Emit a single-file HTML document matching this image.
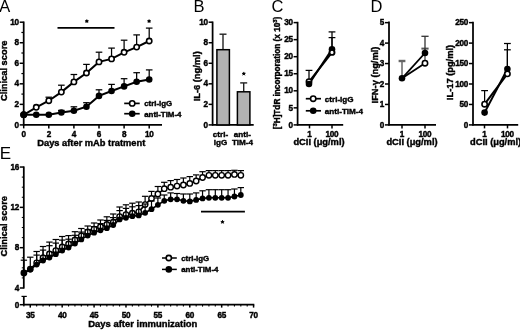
<!DOCTYPE html>
<html><head><meta charset="utf-8"><title>Figure</title>
<style>
html,body{margin:0;padding:0;background:#fff;}
body{width:520px;height:330px;overflow:hidden;}
text.b{stroke:#000;stroke-width:0.4px;}
text.t{letter-spacing:-0.3px;}
svg{display:block;will-change:transform;-webkit-font-smoothing:antialiased;font-family:"Liberation Sans",sans-serif;fill:#000;}
</style></head><body>
<svg width="520" height="330" viewBox="0 0 520 330">
<rect x="0" y="0" width="520" height="330" fill="#fff"/>
<text x="-0.70" y="11.50" font-size="16.5" text-anchor="start" font-weight="normal" >A</text>
<line x1="23.70" y1="21.50" x2="23.70" y2="125.50" stroke="#000" stroke-width="1.75"/>
<line x1="23.10" y1="124.90" x2="162.00" y2="124.90" stroke="#000" stroke-width="1.75"/>
<line x1="19.70" y1="124.90" x2="23.70" y2="124.90" stroke="#000" stroke-width="1.5"/>
<text x="18.80" y="127.55" font-size="8.2" text-anchor="end" font-weight="bold"  class="b t">0</text>
<line x1="19.70" y1="104.36" x2="23.70" y2="104.36" stroke="#000" stroke-width="1.5"/>
<text x="18.80" y="107.01" font-size="8.2" text-anchor="end" font-weight="bold"  class="b t">2</text>
<line x1="19.70" y1="83.82" x2="23.70" y2="83.82" stroke="#000" stroke-width="1.5"/>
<text x="18.80" y="86.47" font-size="8.2" text-anchor="end" font-weight="bold"  class="b t">4</text>
<line x1="19.70" y1="63.28" x2="23.70" y2="63.28" stroke="#000" stroke-width="1.5"/>
<text x="18.80" y="65.93" font-size="8.2" text-anchor="end" font-weight="bold"  class="b t">6</text>
<line x1="19.70" y1="42.74" x2="23.70" y2="42.74" stroke="#000" stroke-width="1.5"/>
<text x="18.80" y="45.39" font-size="8.2" text-anchor="end" font-weight="bold"  class="b t">8</text>
<line x1="19.70" y1="22.20" x2="23.70" y2="22.20" stroke="#000" stroke-width="1.5"/>
<text x="18.80" y="24.85" font-size="8.2" text-anchor="end" font-weight="bold"  class="b t">10</text>
<line x1="23.70" y1="124.90" x2="23.70" y2="128.40" stroke="#000" stroke-width="1.5"/>
<text x="23.70" y="137.10" font-size="8.2" text-anchor="middle" font-weight="bold"  class="b t">0</text>
<line x1="48.80" y1="124.90" x2="48.80" y2="128.40" stroke="#000" stroke-width="1.5"/>
<text x="48.80" y="137.10" font-size="8.2" text-anchor="middle" font-weight="bold"  class="b t">2</text>
<line x1="73.90" y1="124.90" x2="73.90" y2="128.40" stroke="#000" stroke-width="1.5"/>
<text x="73.90" y="137.10" font-size="8.2" text-anchor="middle" font-weight="bold"  class="b t">4</text>
<line x1="99.00" y1="124.90" x2="99.00" y2="128.40" stroke="#000" stroke-width="1.5"/>
<text x="99.00" y="137.10" font-size="8.2" text-anchor="middle" font-weight="bold"  class="b t">6</text>
<line x1="124.10" y1="124.90" x2="124.10" y2="128.40" stroke="#000" stroke-width="1.5"/>
<text x="124.10" y="137.10" font-size="8.2" text-anchor="middle" font-weight="bold"  class="b t">8</text>
<line x1="149.20" y1="124.90" x2="149.20" y2="128.40" stroke="#000" stroke-width="1.5"/>
<text x="149.20" y="137.10" font-size="8.2" text-anchor="middle" font-weight="bold"  class="b t">10</text>
<line x1="21.40" y1="114.63" x2="23.70" y2="114.63" stroke="#000" stroke-width="1.2"/>
<line x1="21.40" y1="94.09" x2="23.70" y2="94.09" stroke="#000" stroke-width="1.2"/>
<line x1="21.40" y1="73.55" x2="23.70" y2="73.55" stroke="#000" stroke-width="1.2"/>
<line x1="21.40" y1="53.01" x2="23.70" y2="53.01" stroke="#000" stroke-width="1.2"/>
<line x1="21.40" y1="32.47" x2="23.70" y2="32.47" stroke="#000" stroke-width="1.2"/>
<text x="91.30" y="145.60" font-size="9.3" text-anchor="middle" font-weight="bold"  class="b">Days after mAb tratment</text>
<text transform="translate(7.20,70.80) rotate(-90)" font-size="9.3" text-anchor="middle" font-weight="bold" class="b">Clinical score</text>
<line x1="48.80" y1="100.70" x2="48.80" y2="97.20" stroke="#000" stroke-width="1.25"/>
<line x1="45.50" y1="97.20" x2="52.10" y2="97.20" stroke="#000" stroke-width="1.25"/>
<line x1="61.35" y1="92.10" x2="61.35" y2="85.20" stroke="#000" stroke-width="1.25"/>
<line x1="58.05" y1="85.20" x2="64.65" y2="85.20" stroke="#000" stroke-width="1.25"/>
<line x1="73.90" y1="81.90" x2="73.90" y2="74.50" stroke="#000" stroke-width="1.25"/>
<line x1="70.60" y1="74.50" x2="77.20" y2="74.50" stroke="#000" stroke-width="1.25"/>
<line x1="86.45" y1="73.00" x2="86.45" y2="64.40" stroke="#000" stroke-width="1.25"/>
<line x1="83.15" y1="64.40" x2="89.75" y2="64.40" stroke="#000" stroke-width="1.25"/>
<line x1="99.00" y1="61.90" x2="99.00" y2="52.20" stroke="#000" stroke-width="1.25"/>
<line x1="95.70" y1="52.20" x2="102.30" y2="52.20" stroke="#000" stroke-width="1.25"/>
<line x1="111.55" y1="58.90" x2="111.55" y2="48.10" stroke="#000" stroke-width="1.25"/>
<line x1="108.25" y1="48.10" x2="114.85" y2="48.10" stroke="#000" stroke-width="1.25"/>
<line x1="124.10" y1="52.30" x2="124.10" y2="40.20" stroke="#000" stroke-width="1.25"/>
<line x1="120.80" y1="40.20" x2="127.40" y2="40.20" stroke="#000" stroke-width="1.25"/>
<line x1="136.65" y1="47.10" x2="136.65" y2="34.90" stroke="#000" stroke-width="1.25"/>
<line x1="133.35" y1="34.90" x2="139.95" y2="34.90" stroke="#000" stroke-width="1.25"/>
<line x1="149.20" y1="41.00" x2="149.20" y2="28.10" stroke="#000" stroke-width="1.25"/>
<line x1="145.90" y1="28.10" x2="152.50" y2="28.10" stroke="#000" stroke-width="1.25"/>
<line x1="61.35" y1="112.50" x2="61.35" y2="110.40" stroke="#000" stroke-width="1.25"/>
<line x1="58.05" y1="110.40" x2="64.65" y2="110.40" stroke="#000" stroke-width="1.25"/>
<line x1="73.90" y1="110.70" x2="73.90" y2="106.80" stroke="#000" stroke-width="1.25"/>
<line x1="70.60" y1="106.80" x2="77.20" y2="106.80" stroke="#000" stroke-width="1.25"/>
<line x1="86.45" y1="106.70" x2="86.45" y2="102.70" stroke="#000" stroke-width="1.25"/>
<line x1="83.15" y1="102.70" x2="89.75" y2="102.70" stroke="#000" stroke-width="1.25"/>
<line x1="99.00" y1="95.90" x2="99.00" y2="89.80" stroke="#000" stroke-width="1.25"/>
<line x1="95.70" y1="89.80" x2="102.30" y2="89.80" stroke="#000" stroke-width="1.25"/>
<line x1="111.55" y1="91.00" x2="111.55" y2="84.40" stroke="#000" stroke-width="1.25"/>
<line x1="108.25" y1="84.40" x2="114.85" y2="84.40" stroke="#000" stroke-width="1.25"/>
<line x1="124.10" y1="86.40" x2="124.10" y2="78.70" stroke="#000" stroke-width="1.25"/>
<line x1="120.80" y1="78.70" x2="127.40" y2="78.70" stroke="#000" stroke-width="1.25"/>
<line x1="136.65" y1="81.80" x2="136.65" y2="72.70" stroke="#000" stroke-width="1.25"/>
<line x1="133.35" y1="72.70" x2="139.95" y2="72.70" stroke="#000" stroke-width="1.25"/>
<line x1="149.20" y1="79.50" x2="149.20" y2="69.90" stroke="#000" stroke-width="1.25"/>
<line x1="145.90" y1="69.90" x2="152.50" y2="69.90" stroke="#000" stroke-width="1.25"/>
<polyline fill="none" stroke="#000" stroke-width="2.0" points="23.70,114.80 36.25,114.80 48.80,114.80 61.35,112.50 73.90,110.70 86.45,106.70 99.00,95.90 111.55,91.00 124.10,86.40 136.65,81.80 149.20,79.50"/>
<polyline fill="none" stroke="#000" stroke-width="2.0" points="23.70,114.80 36.25,107.30 48.80,100.70 61.35,92.10 73.90,81.90 86.45,73.00 99.00,61.90 111.55,58.90 124.10,52.30 136.65,47.10 149.20,41.00"/>
<circle cx="23.70" cy="114.80" r="3.30" fill="#000"/>
<circle cx="36.25" cy="114.80" r="3.30" fill="#000"/>
<circle cx="48.80" cy="114.80" r="3.30" fill="#000"/>
<circle cx="61.35" cy="112.50" r="3.30" fill="#000"/>
<circle cx="73.90" cy="110.70" r="3.30" fill="#000"/>
<circle cx="86.45" cy="106.70" r="3.30" fill="#000"/>
<circle cx="99.00" cy="95.90" r="3.30" fill="#000"/>
<circle cx="111.55" cy="91.00" r="3.30" fill="#000"/>
<circle cx="124.10" cy="86.40" r="3.30" fill="#000"/>
<circle cx="136.65" cy="81.80" r="3.30" fill="#000"/>
<circle cx="149.20" cy="79.50" r="3.30" fill="#000"/>
<circle cx="23.70" cy="114.80" r="2.65" fill="#fff" stroke="#000" stroke-width="1.6"/>
<circle cx="36.25" cy="107.30" r="2.65" fill="#fff" stroke="#000" stroke-width="1.6"/>
<circle cx="48.80" cy="100.70" r="2.65" fill="#fff" stroke="#000" stroke-width="1.6"/>
<circle cx="61.35" cy="92.10" r="2.65" fill="#fff" stroke="#000" stroke-width="1.6"/>
<circle cx="73.90" cy="81.90" r="2.65" fill="#fff" stroke="#000" stroke-width="1.6"/>
<circle cx="86.45" cy="73.00" r="2.65" fill="#fff" stroke="#000" stroke-width="1.6"/>
<circle cx="99.00" cy="61.90" r="2.65" fill="#fff" stroke="#000" stroke-width="1.6"/>
<circle cx="111.55" cy="58.90" r="2.65" fill="#fff" stroke="#000" stroke-width="1.6"/>
<circle cx="124.10" cy="52.30" r="2.65" fill="#fff" stroke="#000" stroke-width="1.6"/>
<circle cx="136.65" cy="47.10" r="2.65" fill="#fff" stroke="#000" stroke-width="1.6"/>
<circle cx="149.20" cy="41.00" r="2.65" fill="#fff" stroke="#000" stroke-width="1.6"/>
<circle cx="23.70" cy="114.80" r="3.30" fill="#000"/>
<line x1="57.50" y1="27.80" x2="114.50" y2="27.80" stroke="#000" stroke-width="1.7"/>
<circle cx="86.80" cy="21.20" r="1.25" fill="#000"/>
<line x1="86.80" y1="21.20" x2="86.80" y2="19.30" stroke="#000" stroke-width="0.9"/>
<line x1="86.80" y1="21.20" x2="88.61" y2="20.61" stroke="#000" stroke-width="0.9"/>
<line x1="86.80" y1="21.20" x2="87.92" y2="22.74" stroke="#000" stroke-width="0.9"/>
<line x1="86.80" y1="21.20" x2="85.68" y2="22.74" stroke="#000" stroke-width="0.9"/>
<line x1="86.80" y1="21.20" x2="84.99" y2="20.61" stroke="#000" stroke-width="0.9"/>
<circle cx="149.10" cy="21.20" r="1.25" fill="#000"/>
<line x1="149.10" y1="21.20" x2="149.10" y2="19.30" stroke="#000" stroke-width="0.9"/>
<line x1="149.10" y1="21.20" x2="150.91" y2="20.61" stroke="#000" stroke-width="0.9"/>
<line x1="149.10" y1="21.20" x2="150.22" y2="22.74" stroke="#000" stroke-width="0.9"/>
<line x1="149.10" y1="21.20" x2="147.98" y2="22.74" stroke="#000" stroke-width="0.9"/>
<line x1="149.10" y1="21.20" x2="147.29" y2="20.61" stroke="#000" stroke-width="0.9"/>
<line x1="124.20" y1="103.40" x2="139.70" y2="103.40" stroke="#000" stroke-width="1.7"/>
<circle cx="132.20" cy="103.40" r="2.65" fill="#fff" stroke="#000" stroke-width="1.6"/>
<text x="144.20" y="106.30" font-size="7.9" text-anchor="start" font-weight="bold"  class="b">ctrl-IgG</text>
<line x1="124.20" y1="113.70" x2="139.70" y2="113.70" stroke="#000" stroke-width="1.7"/>
<circle cx="132.20" cy="113.70" r="3.30" fill="#000"/>
<text x="144.20" y="116.60" font-size="7.9" text-anchor="start" font-weight="bold"  class="b">anti-TIM-4</text>
<text x="193.40" y="11.50" font-size="16.5" text-anchor="start" font-weight="normal" >B</text>
<line x1="212.60" y1="21.50" x2="212.60" y2="125.50" stroke="#000" stroke-width="1.75"/>
<line x1="212.00" y1="124.90" x2="253.70" y2="124.90" stroke="#000" stroke-width="1.75"/>
<line x1="208.60" y1="124.90" x2="212.60" y2="124.90" stroke="#000" stroke-width="1.5"/>
<text x="207.70" y="127.55" font-size="8.2" text-anchor="end" font-weight="bold"  class="b t">0</text>
<line x1="208.60" y1="104.36" x2="212.60" y2="104.36" stroke="#000" stroke-width="1.5"/>
<text x="207.70" y="107.01" font-size="8.2" text-anchor="end" font-weight="bold"  class="b t">2</text>
<line x1="208.60" y1="83.82" x2="212.60" y2="83.82" stroke="#000" stroke-width="1.5"/>
<text x="207.70" y="86.47" font-size="8.2" text-anchor="end" font-weight="bold"  class="b t">4</text>
<line x1="208.60" y1="63.28" x2="212.60" y2="63.28" stroke="#000" stroke-width="1.5"/>
<text x="207.70" y="65.93" font-size="8.2" text-anchor="end" font-weight="bold"  class="b t">6</text>
<line x1="208.60" y1="42.74" x2="212.60" y2="42.74" stroke="#000" stroke-width="1.5"/>
<text x="207.70" y="45.39" font-size="8.2" text-anchor="end" font-weight="bold"  class="b t">8</text>
<line x1="208.60" y1="22.20" x2="212.60" y2="22.20" stroke="#000" stroke-width="1.5"/>
<text x="207.70" y="24.85" font-size="8.2" text-anchor="end" font-weight="bold"  class="b t">10</text>
<text transform="translate(199.80,76.30) rotate(-90)" font-size="9.3" text-anchor="middle" font-weight="bold" class="b">IL-6 (ng/ml)</text>
<line x1="223.00" y1="49.60" x2="223.00" y2="34.20" stroke="#222" stroke-width="1.4"/>
<line x1="219.50" y1="34.20" x2="226.50" y2="34.20" stroke="#222" stroke-width="1.4"/>
<rect x="216.9" y="49.7" width="12.5" height="75.20" fill="#b2b2b2" stroke="#000" stroke-width="1.5"/>
<line x1="243.70" y1="91.80" x2="243.70" y2="82.90" stroke="#222" stroke-width="1.4"/>
<line x1="240.20" y1="82.90" x2="247.20" y2="82.90" stroke="#222" stroke-width="1.4"/>
<rect x="237.4" y="91.8" width="12.5" height="33.10" fill="#b2b2b2" stroke="#000" stroke-width="1.5"/>
<circle cx="243.80" cy="73.80" r="1.25" fill="#000"/>
<line x1="243.80" y1="73.80" x2="243.80" y2="71.90" stroke="#000" stroke-width="0.9"/>
<line x1="243.80" y1="73.80" x2="245.61" y2="73.21" stroke="#000" stroke-width="0.9"/>
<line x1="243.80" y1="73.80" x2="244.92" y2="75.34" stroke="#000" stroke-width="0.9"/>
<line x1="243.80" y1="73.80" x2="242.68" y2="75.34" stroke="#000" stroke-width="0.9"/>
<line x1="243.80" y1="73.80" x2="241.99" y2="73.21" stroke="#000" stroke-width="0.9"/>
<text x="220.50" y="136.50" font-size="8.1" text-anchor="middle" font-weight="bold"  class="b">ctrl-</text>
<text x="220.50" y="144.90" font-size="8.1" text-anchor="middle" font-weight="bold"  class="b">IgG</text>
<text x="242.30" y="136.50" font-size="8.1" text-anchor="middle" font-weight="bold"  class="b">anti-</text>
<text x="242.50" y="144.90" font-size="8.1" text-anchor="middle" font-weight="bold"  class="b">TIM-4</text>
<text x="271.50" y="11.60" font-size="16.5" text-anchor="start" font-weight="normal" >C</text>
<line x1="297.60" y1="21.80" x2="297.60" y2="125.50" stroke="#000" stroke-width="1.75"/>
<line x1="297.00" y1="124.90" x2="343.20" y2="124.90" stroke="#000" stroke-width="1.75"/>
<line x1="293.60" y1="124.90" x2="297.60" y2="124.90" stroke="#000" stroke-width="1.5"/>
<text x="292.70" y="127.55" font-size="8.2" text-anchor="end" font-weight="bold"  class="b t">0</text>
<line x1="293.60" y1="107.85" x2="297.60" y2="107.85" stroke="#000" stroke-width="1.5"/>
<text x="292.70" y="110.50" font-size="8.2" text-anchor="end" font-weight="bold"  class="b t">5</text>
<line x1="293.60" y1="90.80" x2="297.60" y2="90.80" stroke="#000" stroke-width="1.5"/>
<text x="292.70" y="93.45" font-size="8.2" text-anchor="end" font-weight="bold"  class="b t">10</text>
<line x1="293.60" y1="73.75" x2="297.60" y2="73.75" stroke="#000" stroke-width="1.5"/>
<text x="292.70" y="76.40" font-size="8.2" text-anchor="end" font-weight="bold"  class="b t">15</text>
<line x1="293.60" y1="56.70" x2="297.60" y2="56.70" stroke="#000" stroke-width="1.5"/>
<text x="292.70" y="59.35" font-size="8.2" text-anchor="end" font-weight="bold"  class="b t">20</text>
<line x1="293.60" y1="39.65" x2="297.60" y2="39.65" stroke="#000" stroke-width="1.5"/>
<text x="292.70" y="42.30" font-size="8.2" text-anchor="end" font-weight="bold"  class="b t">25</text>
<line x1="293.60" y1="22.60" x2="297.60" y2="22.60" stroke="#000" stroke-width="1.5"/>
<text x="292.70" y="25.25" font-size="8.2" text-anchor="end" font-weight="bold"  class="b t">30</text>
<line x1="309.50" y1="124.90" x2="309.50" y2="128.40" stroke="#000" stroke-width="1.5"/>
<text x="309.50" y="137.10" font-size="8.2" text-anchor="middle" font-weight="bold"  class="b t">1</text>
<line x1="332.00" y1="124.90" x2="332.00" y2="128.40" stroke="#000" stroke-width="1.5"/>
<text x="332.00" y="137.10" font-size="8.2" text-anchor="middle" font-weight="bold"  class="b t">100</text>
<text x="319.00" y="145.40" font-size="9.3" text-anchor="middle" font-weight="bold"  class="b">dCII (&#956;g/ml)</text>
<text transform="translate(279.8,73.0) rotate(-90)" font-size="8.2" text-anchor="middle" font-weight="bold" class="b">[<tspan font-size="6" dy="-3">3</tspan><tspan dy="3">H]TdR incorporation (x 10</tspan><tspan font-size="6" dy="-3">3</tspan><tspan dy="3">)</tspan></text>
<line x1="309.00" y1="82.30" x2="309.00" y2="70.40" stroke="#000" stroke-width="1.25"/>
<line x1="305.60" y1="70.40" x2="312.40" y2="70.40" stroke="#000" stroke-width="1.25"/>
<line x1="332.00" y1="51.80" x2="332.00" y2="37.60" stroke="#000" stroke-width="1.25"/>
<line x1="328.60" y1="37.60" x2="335.40" y2="37.60" stroke="#000" stroke-width="1.25"/>
<line x1="332.00" y1="49.50" x2="332.00" y2="31.90" stroke="#000" stroke-width="1.25"/>
<line x1="328.60" y1="31.90" x2="335.40" y2="31.90" stroke="#000" stroke-width="1.25"/>
<polyline fill="none" stroke="#000" stroke-width="2.0" points="309.00,81.80 332.00,52.30"/>
<polyline fill="none" stroke="#000" stroke-width="2.0" points="309.00,84.00 332.00,49.30"/>
<circle cx="309.00" cy="81.60" r="2.65" fill="#fff" stroke="#000" stroke-width="1.6"/>
<circle cx="309.00" cy="84.00" r="3.30" fill="#000"/>
<circle cx="332.00" cy="49.30" r="3.30" fill="#000"/>
<circle cx="332.00" cy="52.40" r="2.50" fill="#fff" stroke="#000" stroke-width="1.9"/>
<line x1="305.80" y1="98.70" x2="321.00" y2="98.70" stroke="#000" stroke-width="1.7"/>
<circle cx="313.20" cy="98.70" r="2.65" fill="#fff" stroke="#000" stroke-width="1.6"/>
<text x="324.80" y="101.60" font-size="8.1" text-anchor="start" font-weight="bold"  class="b">ctrl-IgG</text>
<line x1="305.80" y1="110.80" x2="321.00" y2="110.80" stroke="#000" stroke-width="1.7"/>
<circle cx="313.20" cy="110.80" r="3.30" fill="#000"/>
<text x="324.80" y="113.70" font-size="8.1" text-anchor="start" font-weight="bold"  class="b">anti-TIM-4</text>
<text x="370.50" y="11.50" font-size="16.5" text-anchor="start" font-weight="normal" >D</text>
<line x1="389.00" y1="21.50" x2="389.00" y2="125.50" stroke="#000" stroke-width="1.75"/>
<line x1="388.40" y1="124.90" x2="436.00" y2="124.90" stroke="#000" stroke-width="1.75"/>
<line x1="385.00" y1="124.90" x2="389.00" y2="124.90" stroke="#000" stroke-width="1.5"/>
<text x="384.10" y="127.55" font-size="8.2" text-anchor="end" font-weight="bold"  class="b t">0</text>
<line x1="385.00" y1="104.45" x2="389.00" y2="104.45" stroke="#000" stroke-width="1.5"/>
<text x="384.10" y="107.10" font-size="8.2" text-anchor="end" font-weight="bold"  class="b t">1</text>
<line x1="385.00" y1="84.00" x2="389.00" y2="84.00" stroke="#000" stroke-width="1.5"/>
<text x="384.10" y="86.65" font-size="8.2" text-anchor="end" font-weight="bold"  class="b t">2</text>
<line x1="385.00" y1="63.55" x2="389.00" y2="63.55" stroke="#000" stroke-width="1.5"/>
<text x="384.10" y="66.20" font-size="8.2" text-anchor="end" font-weight="bold"  class="b t">3</text>
<line x1="385.00" y1="43.10" x2="389.00" y2="43.10" stroke="#000" stroke-width="1.5"/>
<text x="384.10" y="45.75" font-size="8.2" text-anchor="end" font-weight="bold"  class="b t">4</text>
<line x1="385.00" y1="22.65" x2="389.00" y2="22.65" stroke="#000" stroke-width="1.5"/>
<text x="384.10" y="25.30" font-size="8.2" text-anchor="end" font-weight="bold"  class="b t">5</text>
<line x1="402.00" y1="124.90" x2="402.00" y2="128.40" stroke="#000" stroke-width="1.5"/>
<text x="402.00" y="137.10" font-size="8.2" text-anchor="middle" font-weight="bold"  class="b t">1</text>
<line x1="425.00" y1="124.90" x2="425.00" y2="128.40" stroke="#000" stroke-width="1.5"/>
<text x="425.00" y="137.10" font-size="8.2" text-anchor="middle" font-weight="bold"  class="b t">100</text>
<text x="412.00" y="145.40" font-size="9.3" text-anchor="middle" font-weight="bold"  class="b">dCII (&#956;g/ml)</text>
<text transform="translate(378.30,75.00) rotate(-90)" font-size="9.3" text-anchor="middle" font-weight="bold" class="b">IFN-&#947; (ng/ml)</text>
<line x1="402.00" y1="78.00" x2="402.00" y2="61.00" stroke="#666" stroke-width="1.5"/>
<line x1="398.60" y1="61.00" x2="405.40" y2="61.00" stroke="#666" stroke-width="2.4"/>
<line x1="425.00" y1="63.00" x2="425.00" y2="48.60" stroke="#555" stroke-width="1.4"/>
<line x1="421.40" y1="48.60" x2="428.60" y2="48.60" stroke="#555" stroke-width="2.0"/>
<line x1="425.00" y1="53.00" x2="425.00" y2="36.30" stroke="#333" stroke-width="1.3"/>
<line x1="421.40" y1="36.30" x2="428.60" y2="36.30" stroke="#333" stroke-width="1.3"/>
<polyline fill="none" stroke="#000" stroke-width="1.8" points="402.00,78.30 425.00,63.20"/>
<polyline fill="none" stroke="#000" stroke-width="1.8" points="402.00,78.30 425.00,53.00"/>
<circle cx="402.00" cy="78.30" r="3.30" fill="#000"/>
<circle cx="425.00" cy="63.20" r="2.65" fill="#fff" stroke="#000" stroke-width="1.6"/>
<circle cx="425.00" cy="53.00" r="3.30" fill="#000"/>
<line x1="473.00" y1="21.80" x2="473.00" y2="125.50" stroke="#000" stroke-width="1.75"/>
<line x1="472.40" y1="124.90" x2="518.20" y2="124.90" stroke="#000" stroke-width="1.75"/>
<line x1="469.00" y1="124.90" x2="473.00" y2="124.90" stroke="#000" stroke-width="1.5"/>
<text x="468.10" y="127.55" font-size="8.2" text-anchor="end" font-weight="bold"  class="b t">0</text>
<line x1="469.00" y1="104.45" x2="473.00" y2="104.45" stroke="#000" stroke-width="1.5"/>
<text x="468.10" y="107.10" font-size="8.2" text-anchor="end" font-weight="bold"  class="b t">50</text>
<line x1="469.00" y1="84.00" x2="473.00" y2="84.00" stroke="#000" stroke-width="1.5"/>
<text x="468.10" y="86.65" font-size="8.2" text-anchor="end" font-weight="bold"  class="b t">100</text>
<line x1="469.00" y1="63.55" x2="473.00" y2="63.55" stroke="#000" stroke-width="1.5"/>
<text x="468.10" y="66.20" font-size="8.2" text-anchor="end" font-weight="bold"  class="b t">150</text>
<line x1="469.00" y1="43.10" x2="473.00" y2="43.10" stroke="#000" stroke-width="1.5"/>
<text x="468.10" y="45.75" font-size="8.2" text-anchor="end" font-weight="bold"  class="b t">200</text>
<line x1="469.00" y1="22.65" x2="473.00" y2="22.65" stroke="#000" stroke-width="1.5"/>
<text x="468.10" y="25.30" font-size="8.2" text-anchor="end" font-weight="bold"  class="b t">250</text>
<line x1="484.50" y1="124.90" x2="484.50" y2="128.40" stroke="#000" stroke-width="1.5"/>
<text x="484.50" y="137.10" font-size="8.2" text-anchor="middle" font-weight="bold"  class="b t">1</text>
<line x1="507.50" y1="124.90" x2="507.50" y2="128.40" stroke="#000" stroke-width="1.5"/>
<text x="507.50" y="137.10" font-size="8.2" text-anchor="middle" font-weight="bold"  class="b t">100</text>
<text x="495.60" y="145.40" font-size="9.3" text-anchor="middle" font-weight="bold"  class="b">dCII (&#956;g/ml)</text>
<text transform="translate(452.80,72.50) rotate(-90)" font-size="9.3" text-anchor="middle" font-weight="bold" class="b">IL-17 (pg/ml)</text>
<line x1="484.60" y1="104.00" x2="484.60" y2="90.60" stroke="#000" stroke-width="1.25"/>
<line x1="481.20" y1="90.60" x2="488.00" y2="90.60" stroke="#000" stroke-width="1.25"/>
<line x1="507.40" y1="69.00" x2="507.40" y2="43.50" stroke="#000" stroke-width="1.25"/>
<line x1="504.00" y1="43.50" x2="510.80" y2="43.50" stroke="#000" stroke-width="1.25"/>
<line x1="507.40" y1="73.80" x2="507.40" y2="49.80" stroke="#000" stroke-width="1.25"/>
<line x1="504.00" y1="49.80" x2="510.80" y2="49.80" stroke="#000" stroke-width="1.25"/>
<polyline fill="none" stroke="#000" stroke-width="2.0" points="484.60,104.20 507.40,73.80"/>
<polyline fill="none" stroke="#000" stroke-width="2.0" points="484.60,112.60 507.40,69.00"/>
<circle cx="484.60" cy="112.60" r="3.30" fill="#000"/>
<circle cx="484.60" cy="104.20" r="2.65" fill="#fff" stroke="#000" stroke-width="1.6"/>
<circle cx="507.40" cy="69.00" r="3.30" fill="#000"/>
<circle cx="507.40" cy="73.80" r="2.65" fill="#fff" stroke="#000" stroke-width="1.6"/>
<text x="-0.30" y="159.30" font-size="17" text-anchor="start" font-weight="normal" >E</text>
<line x1="23.80" y1="166.40" x2="23.80" y2="288.60" stroke="#000" stroke-width="1.75"/>
<line x1="23.80" y1="296.40" x2="23.80" y2="305.30" stroke="#000" stroke-width="1.75"/>
<line x1="21.50" y1="296.40" x2="26.80" y2="296.40" stroke="#000" stroke-width="1.2"/>
<line x1="23.20" y1="304.70" x2="254.30" y2="304.70" stroke="#000" stroke-width="1.75"/>
<line x1="19.80" y1="288.00" x2="23.80" y2="288.00" stroke="#000" stroke-width="1.5"/>
<text x="18.90" y="290.65" font-size="8.2" text-anchor="end" font-weight="bold"  class="b t">4</text>
<line x1="21.80" y1="277.92" x2="23.80" y2="277.92" stroke="#000" stroke-width="1.0"/>
<line x1="21.80" y1="267.84" x2="23.80" y2="267.84" stroke="#000" stroke-width="1.0"/>
<line x1="21.80" y1="257.76" x2="23.80" y2="257.76" stroke="#000" stroke-width="1.0"/>
<line x1="19.80" y1="247.68" x2="23.80" y2="247.68" stroke="#000" stroke-width="1.5"/>
<text x="18.90" y="250.33" font-size="8.2" text-anchor="end" font-weight="bold"  class="b t">8</text>
<line x1="21.80" y1="237.60" x2="23.80" y2="237.60" stroke="#000" stroke-width="1.0"/>
<line x1="21.80" y1="227.52" x2="23.80" y2="227.52" stroke="#000" stroke-width="1.0"/>
<line x1="21.80" y1="217.44" x2="23.80" y2="217.44" stroke="#000" stroke-width="1.0"/>
<line x1="19.80" y1="207.36" x2="23.80" y2="207.36" stroke="#000" stroke-width="1.5"/>
<text x="18.90" y="210.01" font-size="8.2" text-anchor="end" font-weight="bold"  class="b t">12</text>
<line x1="21.80" y1="197.28" x2="23.80" y2="197.28" stroke="#000" stroke-width="1.0"/>
<line x1="21.80" y1="187.20" x2="23.80" y2="187.20" stroke="#000" stroke-width="1.0"/>
<line x1="21.80" y1="177.12" x2="23.80" y2="177.12" stroke="#000" stroke-width="1.0"/>
<line x1="19.80" y1="167.04" x2="23.80" y2="167.04" stroke="#000" stroke-width="1.5"/>
<text x="18.90" y="169.69" font-size="8.2" text-anchor="end" font-weight="bold"  class="b t">16</text>
<line x1="19.80" y1="304.70" x2="23.80" y2="304.70" stroke="#000" stroke-width="1.5"/>
<text x="18.90" y="307.50" font-size="8.2" text-anchor="end" font-weight="bold"  class="b t">0</text>
<line x1="23.90" y1="304.70" x2="23.90" y2="306.60" stroke="#000" stroke-width="1.1"/>
<line x1="30.28" y1="304.70" x2="30.28" y2="307.60" stroke="#000" stroke-width="1.5"/>
<text x="30.28" y="317.60" font-size="8.2" text-anchor="middle" font-weight="bold"  class="b t">35</text>
<line x1="36.66" y1="304.70" x2="36.66" y2="306.60" stroke="#000" stroke-width="1.1"/>
<line x1="43.04" y1="304.70" x2="43.04" y2="306.60" stroke="#000" stroke-width="1.1"/>
<line x1="49.42" y1="304.70" x2="49.42" y2="306.60" stroke="#000" stroke-width="1.1"/>
<line x1="55.80" y1="304.70" x2="55.80" y2="306.60" stroke="#000" stroke-width="1.1"/>
<line x1="62.18" y1="304.70" x2="62.18" y2="307.60" stroke="#000" stroke-width="1.5"/>
<text x="62.18" y="317.60" font-size="8.2" text-anchor="middle" font-weight="bold"  class="b t">40</text>
<line x1="68.56" y1="304.70" x2="68.56" y2="306.60" stroke="#000" stroke-width="1.1"/>
<line x1="74.94" y1="304.70" x2="74.94" y2="306.60" stroke="#000" stroke-width="1.1"/>
<line x1="81.32" y1="304.70" x2="81.32" y2="306.60" stroke="#000" stroke-width="1.1"/>
<line x1="87.70" y1="304.70" x2="87.70" y2="306.60" stroke="#000" stroke-width="1.1"/>
<line x1="94.08" y1="304.70" x2="94.08" y2="307.60" stroke="#000" stroke-width="1.5"/>
<text x="94.08" y="317.60" font-size="8.2" text-anchor="middle" font-weight="bold"  class="b t">45</text>
<line x1="100.46" y1="304.70" x2="100.46" y2="306.60" stroke="#000" stroke-width="1.1"/>
<line x1="106.84" y1="304.70" x2="106.84" y2="306.60" stroke="#000" stroke-width="1.1"/>
<line x1="113.22" y1="304.70" x2="113.22" y2="306.60" stroke="#000" stroke-width="1.1"/>
<line x1="119.60" y1="304.70" x2="119.60" y2="306.60" stroke="#000" stroke-width="1.1"/>
<line x1="125.98" y1="304.70" x2="125.98" y2="307.60" stroke="#000" stroke-width="1.5"/>
<text x="125.98" y="317.60" font-size="8.2" text-anchor="middle" font-weight="bold"  class="b t">50</text>
<line x1="132.36" y1="304.70" x2="132.36" y2="306.60" stroke="#000" stroke-width="1.1"/>
<line x1="138.74" y1="304.70" x2="138.74" y2="306.60" stroke="#000" stroke-width="1.1"/>
<line x1="145.12" y1="304.70" x2="145.12" y2="306.60" stroke="#000" stroke-width="1.1"/>
<line x1="151.50" y1="304.70" x2="151.50" y2="306.60" stroke="#000" stroke-width="1.1"/>
<line x1="157.88" y1="304.70" x2="157.88" y2="307.60" stroke="#000" stroke-width="1.5"/>
<text x="157.88" y="317.60" font-size="8.2" text-anchor="middle" font-weight="bold"  class="b t">55</text>
<line x1="164.26" y1="304.70" x2="164.26" y2="306.60" stroke="#000" stroke-width="1.1"/>
<line x1="170.64" y1="304.70" x2="170.64" y2="306.60" stroke="#000" stroke-width="1.1"/>
<line x1="177.02" y1="304.70" x2="177.02" y2="306.60" stroke="#000" stroke-width="1.1"/>
<line x1="183.40" y1="304.70" x2="183.40" y2="306.60" stroke="#000" stroke-width="1.1"/>
<line x1="189.78" y1="304.70" x2="189.78" y2="307.60" stroke="#000" stroke-width="1.5"/>
<text x="189.78" y="317.60" font-size="8.2" text-anchor="middle" font-weight="bold"  class="b t">60</text>
<line x1="196.16" y1="304.70" x2="196.16" y2="306.60" stroke="#000" stroke-width="1.1"/>
<line x1="202.54" y1="304.70" x2="202.54" y2="306.60" stroke="#000" stroke-width="1.1"/>
<line x1="208.92" y1="304.70" x2="208.92" y2="306.60" stroke="#000" stroke-width="1.1"/>
<line x1="215.30" y1="304.70" x2="215.30" y2="306.60" stroke="#000" stroke-width="1.1"/>
<line x1="221.68" y1="304.70" x2="221.68" y2="307.60" stroke="#000" stroke-width="1.5"/>
<text x="221.68" y="317.60" font-size="8.2" text-anchor="middle" font-weight="bold"  class="b t">65</text>
<line x1="228.06" y1="304.70" x2="228.06" y2="306.60" stroke="#000" stroke-width="1.1"/>
<line x1="234.44" y1="304.70" x2="234.44" y2="306.60" stroke="#000" stroke-width="1.1"/>
<line x1="240.82" y1="304.70" x2="240.82" y2="306.60" stroke="#000" stroke-width="1.1"/>
<line x1="247.20" y1="304.70" x2="247.20" y2="306.60" stroke="#000" stroke-width="1.1"/>
<line x1="253.58" y1="304.70" x2="253.58" y2="307.60" stroke="#000" stroke-width="1.5"/>
<text x="253.58" y="317.60" font-size="8.2" text-anchor="middle" font-weight="bold"  class="b t">70</text>
<text x="142.80" y="327.40" font-size="9.45" text-anchor="middle" font-weight="bold"  class="b">Days after immunization</text>
<text transform="translate(7.20,226.30) rotate(-90)" font-size="9.3" text-anchor="middle" font-weight="bold" class="b">Clinical score</text>
<line x1="23.90" y1="273.00" x2="23.90" y2="260.20" stroke="#000" stroke-width="1.2"/>
<line x1="20.70" y1="260.20" x2="27.10" y2="260.20" stroke="#000" stroke-width="1.2"/>
<line x1="30.28" y1="269.10" x2="30.28" y2="257.20" stroke="#000" stroke-width="1.2"/>
<line x1="27.08" y1="257.20" x2="33.48" y2="257.20" stroke="#000" stroke-width="1.2"/>
<line x1="36.66" y1="262.80" x2="36.66" y2="251.50" stroke="#000" stroke-width="1.2"/>
<line x1="33.46" y1="251.50" x2="39.86" y2="251.50" stroke="#000" stroke-width="1.2"/>
<line x1="43.04" y1="257.70" x2="43.04" y2="246.50" stroke="#000" stroke-width="1.2"/>
<line x1="39.84" y1="246.50" x2="46.24" y2="246.50" stroke="#000" stroke-width="1.2"/>
<line x1="49.42" y1="253.90" x2="49.42" y2="242.10" stroke="#000" stroke-width="1.2"/>
<line x1="46.22" y1="242.10" x2="52.62" y2="242.10" stroke="#000" stroke-width="1.2"/>
<line x1="55.80" y1="250.60" x2="55.80" y2="239.50" stroke="#000" stroke-width="1.2"/>
<line x1="52.60" y1="239.50" x2="59.00" y2="239.50" stroke="#000" stroke-width="1.2"/>
<line x1="62.18" y1="246.90" x2="62.18" y2="236.50" stroke="#000" stroke-width="1.2"/>
<line x1="58.98" y1="236.50" x2="65.38" y2="236.50" stroke="#000" stroke-width="1.2"/>
<line x1="68.56" y1="243.90" x2="68.56" y2="235.60" stroke="#000" stroke-width="1.2"/>
<line x1="65.36" y1="235.60" x2="71.76" y2="235.60" stroke="#000" stroke-width="1.2"/>
<line x1="74.94" y1="240.00" x2="74.94" y2="231.70" stroke="#000" stroke-width="1.2"/>
<line x1="71.74" y1="231.70" x2="78.14" y2="231.70" stroke="#000" stroke-width="1.2"/>
<line x1="81.32" y1="235.80" x2="81.32" y2="228.50" stroke="#000" stroke-width="1.2"/>
<line x1="78.12" y1="228.50" x2="84.52" y2="228.50" stroke="#000" stroke-width="1.2"/>
<line x1="87.70" y1="232.00" x2="87.70" y2="226.00" stroke="#000" stroke-width="1.2"/>
<line x1="84.50" y1="226.00" x2="90.90" y2="226.00" stroke="#000" stroke-width="1.2"/>
<line x1="94.08" y1="229.10" x2="94.08" y2="223.00" stroke="#000" stroke-width="1.2"/>
<line x1="90.88" y1="223.00" x2="97.28" y2="223.00" stroke="#000" stroke-width="1.2"/>
<line x1="100.46" y1="226.70" x2="100.46" y2="220.00" stroke="#000" stroke-width="1.2"/>
<line x1="97.26" y1="220.00" x2="103.66" y2="220.00" stroke="#000" stroke-width="1.2"/>
<line x1="106.84" y1="224.50" x2="106.84" y2="216.80" stroke="#000" stroke-width="1.2"/>
<line x1="103.64" y1="216.80" x2="110.04" y2="216.80" stroke="#000" stroke-width="1.2"/>
<line x1="113.22" y1="222.20" x2="113.22" y2="214.00" stroke="#000" stroke-width="1.2"/>
<line x1="110.02" y1="214.00" x2="116.42" y2="214.00" stroke="#000" stroke-width="1.2"/>
<line x1="119.60" y1="216.60" x2="119.60" y2="207.00" stroke="#000" stroke-width="1.2"/>
<line x1="116.40" y1="207.00" x2="122.80" y2="207.00" stroke="#000" stroke-width="1.2"/>
<line x1="125.98" y1="214.60" x2="125.98" y2="204.80" stroke="#000" stroke-width="1.2"/>
<line x1="122.78" y1="204.80" x2="129.18" y2="204.80" stroke="#000" stroke-width="1.2"/>
<line x1="132.36" y1="213.20" x2="132.36" y2="203.20" stroke="#000" stroke-width="1.2"/>
<line x1="129.16" y1="203.20" x2="135.56" y2="203.20" stroke="#000" stroke-width="1.2"/>
<line x1="138.74" y1="211.80" x2="138.74" y2="202.00" stroke="#000" stroke-width="1.2"/>
<line x1="135.54" y1="202.00" x2="141.94" y2="202.00" stroke="#000" stroke-width="1.2"/>
<line x1="145.12" y1="204.60" x2="145.12" y2="196.30" stroke="#000" stroke-width="1.2"/>
<line x1="141.92" y1="196.30" x2="148.32" y2="196.30" stroke="#000" stroke-width="1.2"/>
<line x1="151.50" y1="198.40" x2="151.50" y2="191.40" stroke="#000" stroke-width="1.2"/>
<line x1="148.30" y1="191.40" x2="154.70" y2="191.40" stroke="#000" stroke-width="1.2"/>
<line x1="157.88" y1="194.00" x2="157.88" y2="186.50" stroke="#000" stroke-width="1.2"/>
<line x1="154.68" y1="186.50" x2="161.08" y2="186.50" stroke="#000" stroke-width="1.2"/>
<line x1="164.26" y1="188.70" x2="164.26" y2="182.30" stroke="#000" stroke-width="1.2"/>
<line x1="161.06" y1="182.30" x2="167.46" y2="182.30" stroke="#000" stroke-width="1.2"/>
<line x1="170.64" y1="187.20" x2="170.64" y2="180.60" stroke="#000" stroke-width="1.2"/>
<line x1="167.44" y1="180.60" x2="173.84" y2="180.60" stroke="#000" stroke-width="1.2"/>
<line x1="177.02" y1="186.10" x2="177.02" y2="179.50" stroke="#000" stroke-width="1.2"/>
<line x1="173.82" y1="179.50" x2="180.22" y2="179.50" stroke="#000" stroke-width="1.2"/>
<line x1="183.40" y1="185.00" x2="183.40" y2="178.00" stroke="#000" stroke-width="1.2"/>
<line x1="180.20" y1="178.00" x2="186.60" y2="178.00" stroke="#000" stroke-width="1.2"/>
<line x1="189.78" y1="183.40" x2="189.78" y2="176.60" stroke="#000" stroke-width="1.2"/>
<line x1="186.58" y1="176.60" x2="192.98" y2="176.60" stroke="#000" stroke-width="1.2"/>
<line x1="196.16" y1="181.00" x2="196.16" y2="174.90" stroke="#000" stroke-width="1.2"/>
<line x1="192.96" y1="174.90" x2="199.36" y2="174.90" stroke="#000" stroke-width="1.2"/>
<line x1="202.54" y1="177.50" x2="202.54" y2="171.70" stroke="#000" stroke-width="1.2"/>
<line x1="199.34" y1="171.70" x2="205.74" y2="171.70" stroke="#000" stroke-width="1.2"/>
<line x1="208.92" y1="175.30" x2="208.92" y2="170.60" stroke="#000" stroke-width="1.2"/>
<line x1="205.72" y1="170.60" x2="212.12" y2="170.60" stroke="#000" stroke-width="1.2"/>
<line x1="215.30" y1="175.30" x2="215.30" y2="170.60" stroke="#000" stroke-width="1.2"/>
<line x1="212.10" y1="170.60" x2="218.50" y2="170.60" stroke="#000" stroke-width="1.2"/>
<line x1="221.68" y1="175.30" x2="221.68" y2="170.60" stroke="#000" stroke-width="1.2"/>
<line x1="218.48" y1="170.60" x2="224.88" y2="170.60" stroke="#000" stroke-width="1.2"/>
<line x1="228.06" y1="175.30" x2="228.06" y2="170.60" stroke="#000" stroke-width="1.2"/>
<line x1="224.86" y1="170.60" x2="231.26" y2="170.60" stroke="#000" stroke-width="1.2"/>
<line x1="234.44" y1="174.40" x2="234.44" y2="170.30" stroke="#000" stroke-width="1.2"/>
<line x1="231.24" y1="170.30" x2="237.64" y2="170.30" stroke="#000" stroke-width="1.2"/>
<line x1="240.82" y1="175.30" x2="240.82" y2="170.60" stroke="#000" stroke-width="1.2"/>
<line x1="237.62" y1="170.60" x2="244.02" y2="170.60" stroke="#000" stroke-width="1.2"/>
<polyline fill="none" stroke="#000" stroke-width="1.6" points="23.90,273.00 30.28,269.10 36.66,262.80 43.04,257.70 49.42,253.90 55.80,250.60 62.18,246.90 68.56,243.90 74.94,240.00 81.32,235.80 87.70,232.00 94.08,229.10 100.46,226.70 106.84,224.50 113.22,222.20 119.60,216.60 125.98,214.60 132.36,213.20 138.74,211.80 145.12,204.60 151.50,198.40 157.88,194.00 164.26,188.70 170.64,187.20 177.02,186.10 183.40,185.00 189.78,183.40 196.16,181.00 202.54,177.50 208.92,175.30 215.30,175.30 221.68,175.30 228.06,175.30 234.44,174.40 240.82,175.30"/>
<circle cx="23.90" cy="273.00" r="2.70" fill="#fff" stroke="#000" stroke-width="1.4"/>
<circle cx="30.28" cy="269.10" r="2.70" fill="#fff" stroke="#000" stroke-width="1.4"/>
<circle cx="36.66" cy="262.80" r="2.70" fill="#fff" stroke="#000" stroke-width="1.4"/>
<circle cx="43.04" cy="257.70" r="2.70" fill="#fff" stroke="#000" stroke-width="1.4"/>
<circle cx="49.42" cy="253.90" r="2.70" fill="#fff" stroke="#000" stroke-width="1.4"/>
<circle cx="55.80" cy="250.60" r="2.70" fill="#fff" stroke="#000" stroke-width="1.4"/>
<circle cx="62.18" cy="246.90" r="2.70" fill="#fff" stroke="#000" stroke-width="1.4"/>
<circle cx="68.56" cy="243.90" r="2.70" fill="#fff" stroke="#000" stroke-width="1.4"/>
<circle cx="74.94" cy="240.00" r="2.70" fill="#fff" stroke="#000" stroke-width="1.4"/>
<circle cx="81.32" cy="235.80" r="2.70" fill="#fff" stroke="#000" stroke-width="1.4"/>
<circle cx="87.70" cy="232.00" r="2.70" fill="#fff" stroke="#000" stroke-width="1.4"/>
<circle cx="94.08" cy="229.10" r="2.70" fill="#fff" stroke="#000" stroke-width="1.4"/>
<circle cx="100.46" cy="226.70" r="2.70" fill="#fff" stroke="#000" stroke-width="1.4"/>
<circle cx="106.84" cy="224.50" r="2.70" fill="#fff" stroke="#000" stroke-width="1.4"/>
<circle cx="113.22" cy="222.20" r="2.70" fill="#fff" stroke="#000" stroke-width="1.4"/>
<circle cx="119.60" cy="216.60" r="2.70" fill="#fff" stroke="#000" stroke-width="1.4"/>
<circle cx="125.98" cy="214.60" r="2.70" fill="#fff" stroke="#000" stroke-width="1.4"/>
<circle cx="132.36" cy="213.20" r="2.70" fill="#fff" stroke="#000" stroke-width="1.4"/>
<circle cx="138.74" cy="211.80" r="2.70" fill="#fff" stroke="#000" stroke-width="1.4"/>
<circle cx="145.12" cy="204.60" r="2.70" fill="#fff" stroke="#000" stroke-width="1.4"/>
<circle cx="151.50" cy="198.40" r="2.70" fill="#fff" stroke="#000" stroke-width="1.4"/>
<circle cx="157.88" cy="194.00" r="2.70" fill="#fff" stroke="#000" stroke-width="1.4"/>
<circle cx="164.26" cy="188.70" r="2.70" fill="#fff" stroke="#000" stroke-width="1.4"/>
<circle cx="170.64" cy="187.20" r="2.70" fill="#fff" stroke="#000" stroke-width="1.4"/>
<circle cx="177.02" cy="186.10" r="2.70" fill="#fff" stroke="#000" stroke-width="1.4"/>
<circle cx="183.40" cy="185.00" r="2.70" fill="#fff" stroke="#000" stroke-width="1.4"/>
<circle cx="189.78" cy="183.40" r="2.70" fill="#fff" stroke="#000" stroke-width="1.4"/>
<circle cx="196.16" cy="181.00" r="2.70" fill="#fff" stroke="#000" stroke-width="1.4"/>
<circle cx="202.54" cy="177.50" r="2.70" fill="#fff" stroke="#000" stroke-width="1.4"/>
<circle cx="208.92" cy="175.30" r="2.70" fill="#fff" stroke="#000" stroke-width="1.4"/>
<circle cx="215.30" cy="175.30" r="2.70" fill="#fff" stroke="#000" stroke-width="1.4"/>
<circle cx="221.68" cy="175.30" r="2.70" fill="#fff" stroke="#000" stroke-width="1.4"/>
<circle cx="228.06" cy="175.30" r="2.70" fill="#fff" stroke="#000" stroke-width="1.4"/>
<circle cx="234.44" cy="174.40" r="2.70" fill="#fff" stroke="#000" stroke-width="1.4"/>
<circle cx="240.82" cy="175.30" r="2.70" fill="#fff" stroke="#000" stroke-width="1.4"/>
<line x1="36.66" y1="264.60" x2="36.66" y2="255.10" stroke="#000" stroke-width="1.2"/>
<line x1="33.46" y1="255.10" x2="39.86" y2="255.10" stroke="#000" stroke-width="1.2"/>
<line x1="43.04" y1="260.50" x2="43.04" y2="250.10" stroke="#000" stroke-width="1.2"/>
<line x1="39.84" y1="250.10" x2="46.24" y2="250.10" stroke="#000" stroke-width="1.2"/>
<line x1="49.42" y1="257.50" x2="49.42" y2="245.70" stroke="#000" stroke-width="1.2"/>
<line x1="46.22" y1="245.70" x2="52.62" y2="245.70" stroke="#000" stroke-width="1.2"/>
<line x1="55.80" y1="254.20" x2="55.80" y2="243.10" stroke="#000" stroke-width="1.2"/>
<line x1="52.60" y1="243.10" x2="59.00" y2="243.10" stroke="#000" stroke-width="1.2"/>
<line x1="62.18" y1="250.50" x2="62.18" y2="240.10" stroke="#000" stroke-width="1.2"/>
<line x1="58.98" y1="240.10" x2="65.38" y2="240.10" stroke="#000" stroke-width="1.2"/>
<line x1="68.56" y1="247.50" x2="68.56" y2="239.20" stroke="#000" stroke-width="1.2"/>
<line x1="65.36" y1="239.20" x2="71.76" y2="239.20" stroke="#000" stroke-width="1.2"/>
<line x1="74.94" y1="243.60" x2="74.94" y2="235.30" stroke="#000" stroke-width="1.2"/>
<line x1="71.74" y1="235.30" x2="78.14" y2="235.30" stroke="#000" stroke-width="1.2"/>
<line x1="81.32" y1="239.40" x2="81.32" y2="232.10" stroke="#000" stroke-width="1.2"/>
<line x1="78.12" y1="232.10" x2="84.52" y2="232.10" stroke="#000" stroke-width="1.2"/>
<line x1="87.70" y1="235.60" x2="87.70" y2="229.60" stroke="#000" stroke-width="1.2"/>
<line x1="84.50" y1="229.60" x2="90.90" y2="229.60" stroke="#000" stroke-width="1.2"/>
<line x1="94.08" y1="232.70" x2="94.08" y2="226.60" stroke="#000" stroke-width="1.2"/>
<line x1="90.88" y1="226.60" x2="97.28" y2="226.60" stroke="#000" stroke-width="1.2"/>
<line x1="100.46" y1="230.30" x2="100.46" y2="223.60" stroke="#000" stroke-width="1.2"/>
<line x1="97.26" y1="223.60" x2="103.66" y2="223.60" stroke="#000" stroke-width="1.2"/>
<line x1="106.84" y1="228.20" x2="106.84" y2="220.40" stroke="#000" stroke-width="1.2"/>
<line x1="103.64" y1="220.40" x2="110.04" y2="220.40" stroke="#000" stroke-width="1.2"/>
<line x1="113.22" y1="225.00" x2="113.22" y2="217.60" stroke="#000" stroke-width="1.2"/>
<line x1="110.02" y1="217.60" x2="116.42" y2="217.60" stroke="#000" stroke-width="1.2"/>
<line x1="119.60" y1="219.40" x2="119.60" y2="210.60" stroke="#000" stroke-width="1.2"/>
<line x1="116.40" y1="210.60" x2="122.80" y2="210.60" stroke="#000" stroke-width="1.2"/>
<line x1="125.98" y1="217.80" x2="125.98" y2="208.40" stroke="#000" stroke-width="1.2"/>
<line x1="122.78" y1="208.40" x2="129.18" y2="208.40" stroke="#000" stroke-width="1.2"/>
<line x1="132.36" y1="216.20" x2="132.36" y2="206.80" stroke="#000" stroke-width="1.2"/>
<line x1="129.16" y1="206.80" x2="135.56" y2="206.80" stroke="#000" stroke-width="1.2"/>
<line x1="138.74" y1="215.40" x2="138.74" y2="205.60" stroke="#000" stroke-width="1.2"/>
<line x1="135.54" y1="205.60" x2="141.94" y2="205.60" stroke="#000" stroke-width="1.2"/>
<line x1="145.12" y1="212.80" x2="145.12" y2="204.00" stroke="#000" stroke-width="1.2"/>
<line x1="141.92" y1="204.00" x2="148.32" y2="204.00" stroke="#000" stroke-width="1.2"/>
<line x1="151.50" y1="209.20" x2="151.50" y2="201.00" stroke="#000" stroke-width="1.2"/>
<line x1="148.30" y1="201.00" x2="154.70" y2="201.00" stroke="#000" stroke-width="1.2"/>
<line x1="157.88" y1="204.80" x2="157.88" y2="198.00" stroke="#000" stroke-width="1.2"/>
<line x1="154.68" y1="198.00" x2="161.08" y2="198.00" stroke="#000" stroke-width="1.2"/>
<line x1="164.26" y1="200.80" x2="164.26" y2="195.00" stroke="#000" stroke-width="1.2"/>
<line x1="161.06" y1="195.00" x2="167.46" y2="195.00" stroke="#000" stroke-width="1.2"/>
<line x1="170.64" y1="199.30" x2="170.64" y2="192.90" stroke="#000" stroke-width="1.2"/>
<line x1="167.44" y1="192.90" x2="173.84" y2="192.90" stroke="#000" stroke-width="1.2"/>
<line x1="177.02" y1="199.30" x2="177.02" y2="193.50" stroke="#000" stroke-width="1.2"/>
<line x1="173.82" y1="193.50" x2="180.22" y2="193.50" stroke="#000" stroke-width="1.2"/>
<line x1="183.40" y1="200.80" x2="183.40" y2="194.00" stroke="#000" stroke-width="1.2"/>
<line x1="180.20" y1="194.00" x2="186.60" y2="194.00" stroke="#000" stroke-width="1.2"/>
<line x1="189.78" y1="201.40" x2="189.78" y2="194.00" stroke="#000" stroke-width="1.2"/>
<line x1="186.58" y1="194.00" x2="192.98" y2="194.00" stroke="#000" stroke-width="1.2"/>
<line x1="196.16" y1="199.90" x2="196.16" y2="192.90" stroke="#000" stroke-width="1.2"/>
<line x1="192.96" y1="192.90" x2="199.36" y2="192.90" stroke="#000" stroke-width="1.2"/>
<line x1="202.54" y1="198.40" x2="202.54" y2="190.80" stroke="#000" stroke-width="1.2"/>
<line x1="199.34" y1="190.80" x2="205.74" y2="190.80" stroke="#000" stroke-width="1.2"/>
<line x1="208.92" y1="197.80" x2="208.92" y2="189.70" stroke="#000" stroke-width="1.2"/>
<line x1="205.72" y1="189.70" x2="212.12" y2="189.70" stroke="#000" stroke-width="1.2"/>
<line x1="215.30" y1="197.80" x2="215.30" y2="189.70" stroke="#000" stroke-width="1.2"/>
<line x1="212.10" y1="189.70" x2="218.50" y2="189.70" stroke="#000" stroke-width="1.2"/>
<line x1="221.68" y1="197.80" x2="221.68" y2="189.70" stroke="#000" stroke-width="1.2"/>
<line x1="218.48" y1="189.70" x2="224.88" y2="189.70" stroke="#000" stroke-width="1.2"/>
<line x1="228.06" y1="197.80" x2="228.06" y2="189.70" stroke="#000" stroke-width="1.2"/>
<line x1="224.86" y1="189.70" x2="231.26" y2="189.70" stroke="#000" stroke-width="1.2"/>
<line x1="234.44" y1="196.50" x2="234.44" y2="189.00" stroke="#000" stroke-width="1.2"/>
<line x1="231.24" y1="189.00" x2="237.64" y2="189.00" stroke="#000" stroke-width="1.2"/>
<line x1="240.82" y1="195.00" x2="240.82" y2="187.60" stroke="#000" stroke-width="1.2"/>
<line x1="237.62" y1="187.60" x2="244.02" y2="187.60" stroke="#000" stroke-width="1.2"/>
<polyline fill="none" stroke="#000" stroke-width="1.6" points="23.90,273.00 30.28,269.50 36.66,264.60 43.04,260.50 49.42,257.50 55.80,254.20 62.18,250.50 68.56,247.50 74.94,243.60 81.32,239.40 87.70,235.60 94.08,232.70 100.46,230.30 106.84,228.20 113.22,225.00 119.60,219.40 125.98,217.80 132.36,216.20 138.74,215.40 145.12,212.80 151.50,209.20 157.88,204.80 164.26,200.80 170.64,199.30 177.02,199.30 183.40,200.80 189.78,201.40 196.16,199.90 202.54,198.40 208.92,197.80 215.30,197.80 221.68,197.80 228.06,197.80 234.44,196.50 240.82,195.00"/>
<circle cx="23.90" cy="273.00" r="2.90" fill="#000"/>
<circle cx="30.28" cy="269.50" r="2.90" fill="#000"/>
<circle cx="36.66" cy="264.60" r="2.90" fill="#000"/>
<circle cx="43.04" cy="260.50" r="2.90" fill="#000"/>
<circle cx="49.42" cy="257.50" r="2.90" fill="#000"/>
<circle cx="55.80" cy="254.20" r="2.90" fill="#000"/>
<circle cx="62.18" cy="250.50" r="2.90" fill="#000"/>
<circle cx="68.56" cy="247.50" r="2.90" fill="#000"/>
<circle cx="74.94" cy="243.60" r="2.90" fill="#000"/>
<circle cx="81.32" cy="239.40" r="2.90" fill="#000"/>
<circle cx="87.70" cy="235.60" r="2.90" fill="#000"/>
<circle cx="94.08" cy="232.70" r="2.90" fill="#000"/>
<circle cx="100.46" cy="230.30" r="2.90" fill="#000"/>
<circle cx="106.84" cy="228.20" r="2.90" fill="#000"/>
<circle cx="113.22" cy="225.00" r="2.90" fill="#000"/>
<circle cx="119.60" cy="219.40" r="2.90" fill="#000"/>
<circle cx="125.98" cy="217.80" r="2.90" fill="#000"/>
<circle cx="132.36" cy="216.20" r="2.90" fill="#000"/>
<circle cx="138.74" cy="215.40" r="2.90" fill="#000"/>
<circle cx="145.12" cy="212.80" r="2.90" fill="#000"/>
<circle cx="151.50" cy="209.20" r="2.90" fill="#000"/>
<circle cx="157.88" cy="204.80" r="2.90" fill="#000"/>
<circle cx="164.26" cy="200.80" r="2.90" fill="#000"/>
<circle cx="170.64" cy="199.30" r="2.90" fill="#000"/>
<circle cx="177.02" cy="199.30" r="2.90" fill="#000"/>
<circle cx="183.40" cy="200.80" r="2.90" fill="#000"/>
<circle cx="189.78" cy="201.40" r="2.90" fill="#000"/>
<circle cx="196.16" cy="199.90" r="2.90" fill="#000"/>
<circle cx="202.54" cy="198.40" r="2.90" fill="#000"/>
<circle cx="208.92" cy="197.80" r="2.90" fill="#000"/>
<circle cx="215.30" cy="197.80" r="2.90" fill="#000"/>
<circle cx="221.68" cy="197.80" r="2.90" fill="#000"/>
<circle cx="228.06" cy="197.80" r="2.90" fill="#000"/>
<circle cx="234.44" cy="196.50" r="2.90" fill="#000"/>
<circle cx="240.82" cy="195.00" r="2.90" fill="#000"/>
<line x1="201.00" y1="211.60" x2="244.90" y2="211.60" stroke="#000" stroke-width="1.7"/>
<circle cx="222.50" cy="222.00" r="1.25" fill="#000"/>
<line x1="222.50" y1="222.00" x2="222.50" y2="220.10" stroke="#000" stroke-width="0.9"/>
<line x1="222.50" y1="222.00" x2="224.31" y2="221.41" stroke="#000" stroke-width="0.9"/>
<line x1="222.50" y1="222.00" x2="223.62" y2="223.54" stroke="#000" stroke-width="0.9"/>
<line x1="222.50" y1="222.00" x2="221.38" y2="223.54" stroke="#000" stroke-width="0.9"/>
<line x1="222.50" y1="222.00" x2="220.69" y2="221.41" stroke="#000" stroke-width="0.9"/>
<line x1="162.00" y1="258.00" x2="176.80" y2="258.00" stroke="#000" stroke-width="1.5"/>
<circle cx="168.80" cy="258.00" r="2.65" fill="#fff" stroke="#000" stroke-width="1.6"/>
<text x="181.20" y="260.90" font-size="7.9" text-anchor="start" font-weight="bold"  class="b">ctrl-IgG</text>
<line x1="162.00" y1="269.40" x2="176.80" y2="269.40" stroke="#000" stroke-width="1.5"/>
<circle cx="168.80" cy="269.40" r="3.30" fill="#000"/>
<text x="181.20" y="272.30" font-size="7.9" text-anchor="start" font-weight="bold"  class="b">anti-TIM-4</text>
</svg>
</body></html>
